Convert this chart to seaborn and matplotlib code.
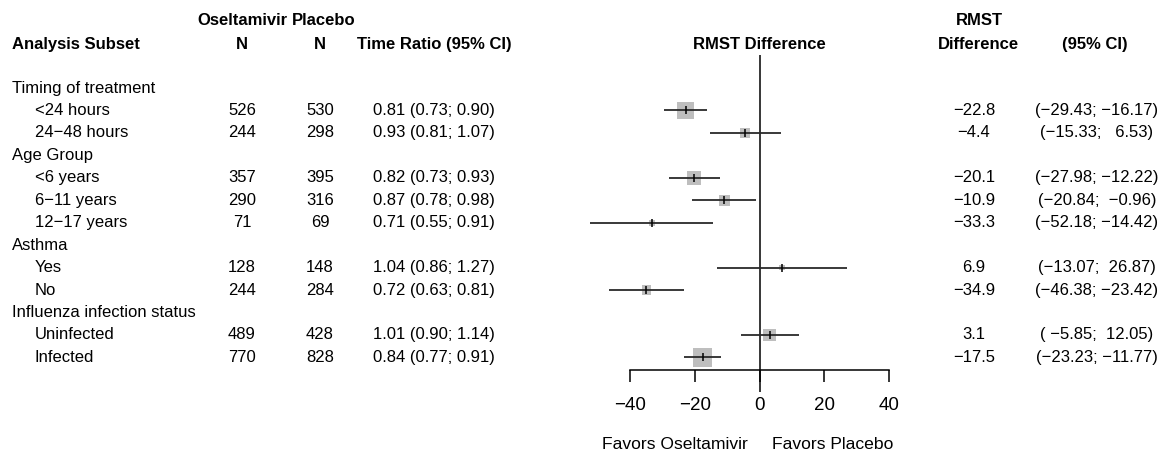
import numpy as np
import pandas as pd
import matplotlib
matplotlib.use("Agg")
import matplotlib.pyplot as plt
import seaborn as sns

# Subgroup data
groups = ["Timing of treatment", "Age Group", "Asthma", "Influenza infection status"]
subgroups = ["<24 hours", "24\u221248 hours",
             "<6 years", "6\u221211 years", "12\u221217 years",
             "Yes", "No",
             "Uninfected", "Infected"]
group_of = [0, 0, 1, 1, 1, 2, 2, 3, 3]
n_oselt = [526, 244, 357, 290, 71, 128, 244, 489, 770]
n_placebo = [530, 298, 395, 316, 69, 148, 284, 428, 828]
tr = [0.81, 0.93, 0.82, 0.87, 0.71, 1.04, 0.72, 1.01, 0.84]
tr_lo = [0.73, 0.81, 0.73, 0.78, 0.55, 0.86, 0.63, 0.90, 0.77]
tr_hi = [0.90, 1.07, 0.93, 0.98, 0.91, 1.27, 0.81, 1.14, 0.91]
rmst = [-22.8, -4.4, -20.1, -10.9, -33.3, 6.9, -34.9, 3.1, -17.5]
rmst_lo = [-29.43, -15.33, -27.98, -20.84, -52.18, -13.07, -46.38, -5.85, -23.23]
rmst_hi = [-16.17, 6.53, -12.22, -0.96, -14.42, 26.87, -23.42, 12.05, -11.77]
xticks = [-40, -20, 0, 20, 40]


def mfmt(s):
    return s.replace("-", "\u2212")


# build row layout: group header then its subgroups
rows = []
header_rows = []
r = 0
for g in range(len(groups)):
    header_rows.append(r)
    r += 1
    for i, gi in enumerate(group_of):
        if gi == g:
            rows.append(r)
            r += 1

df = pd.DataFrame({
    "label": subgroups, "row": rows, "n_e": n_oselt, "n_c": n_placebo,
    "tr": tr, "tr_lo": tr_lo, "tr_hi": tr_hi,
    "est": rmst, "lo": rmst_lo, "hi": rmst_hi,
})
# inverse-variance weights -> box side proportional to sqrt(weight)
se = (df["hi"] - df["lo"]) / (2 * 1.96)
w = 1 / se ** 2
side_px = 19.3 * np.sqrt(w / w.max())
df["area"] = (side_px * 0.72) ** 2

sns.set_style("white")
plt.rcParams["font.family"] = ["Liberation Sans", "DejaVu Sans"]
plt.rcParams["text.color"] = "black"
plt.rcParams["xtick.color"] = "black"
FS = 12

W, H = 1167, 458
fig = plt.figure(figsize=(W / 100, H / 100), dpi=100)
ylim = (16.48, -3.92)

tab = fig.add_axes([0, 0, 1, 1])
tab.set_xlim(0, W)
tab.set_ylim(*ylim)
tab.axis("off")

# header
hdr = dict(fontsize=FS, fontweight="bold", va="center")
tab.text(287, -3.02, "Oseltamivir", ha="right", **hdr)
tab.text(292, -3.02, "Placebo", ha="left", **hdr)
tab.text(979, -3.02, "RMST", ha="center", **hdr)
tab.text(12, -1.96, "Analysis Subset", ha="left", **hdr)
tab.text(242, -1.96, "N", ha="center", **hdr)
tab.text(320, -1.96, "N", ha="center", **hdr)
tab.text(434, -1.96, "Time Ratio (95% CI)", ha="center", **hdr)
tab.text(759, -1.96, "RMST Difference", ha="center", **hdr)
tab.text(978, -1.96, "Difference", ha="center", **hdr)
tab.text(1095, -1.96, "(95% CI)", ha="center", **hdr)

txt = dict(fontsize=FS, va="center")
for g, hr in zip(groups, header_rows):
    tab.text(12, hr, g, ha="left", **txt)
for _, d in df.iterrows():
    y = d["row"]
    tab.text(35, y, d["label"], ha="left", **txt)
    tab.text(242, y, str(d["n_e"]), ha="center", **txt)
    tab.text(320, y, str(d["n_c"]), ha="center", **txt)
    tab.text(434, y, f"{d['tr']:.2f} ({d['tr_lo']:.2f}; {d['tr_hi']:.2f})", ha="center", **txt)
    tab.text(974, y, mfmt(f"{d['est']:.1f}"), ha="center", **txt)
    tab.text(1097, y, mfmt(f"({d['lo']:6.2f}; {d['hi']:6.2f})"), ha="center", **txt)

# forest panel
ax = fig.add_axes([584.5 / W, 0, 350 / W, 1])
ax.patch.set_alpha(0)
ax.set_xlim(-54, 54)
ax.set_ylim(*ylim)

sns.scatterplot(data=df, x="est", y="row", size="area",
                sizes=(df["area"].min(), df["area"].max()),
                size_norm=(df["area"].min(), df["area"].max()),
                marker="s", color="#bebebe", edgecolor="none", linewidth=0,
                legend=False, ax=ax, zorder=2)
ax.hlines(df["row"], df["lo"], df["hi"], color="#2a2a2a", lw=1.3, zorder=3)
sns.scatterplot(data=df, x="est", y="row", marker="|", s=30, color="black",
                linewidth=1.1, legend=False, ax=ax, zorder=4)
ax.vlines(0, -1.47, 13.54, color="black", lw=1.1, zorder=1)

for s in ["top", "right", "left"]:
    ax.spines[s].set_visible(False)
ax.spines["bottom"].set_position(("data", 12.56))
ax.spines["bottom"].set_bounds(-40, 40)
ax.spines["bottom"].set_color("black")
ax.spines["bottom"].set_linewidth(1.1)
ax.set_xticks(xticks)
ax.set_xticklabels([mfmt(str(t)) for t in xticks])
ax.tick_params(axis="x", direction="out", length=8.6, width=1.1, color="black",
               pad=11, labelsize=13.5, bottom=True)
ax.set_yticks([])
ax.set_xlabel("")
ax.set_ylabel("")

ax.text(-3.5, 15.9, "Favors Oseltamivir", ha="right", fontsize=12.6, va="center")
ax.text(3.9, 15.9, "Favors Placebo", ha="left", fontsize=12.6, va="center")

fig.savefig("out.png", dpi=100)
